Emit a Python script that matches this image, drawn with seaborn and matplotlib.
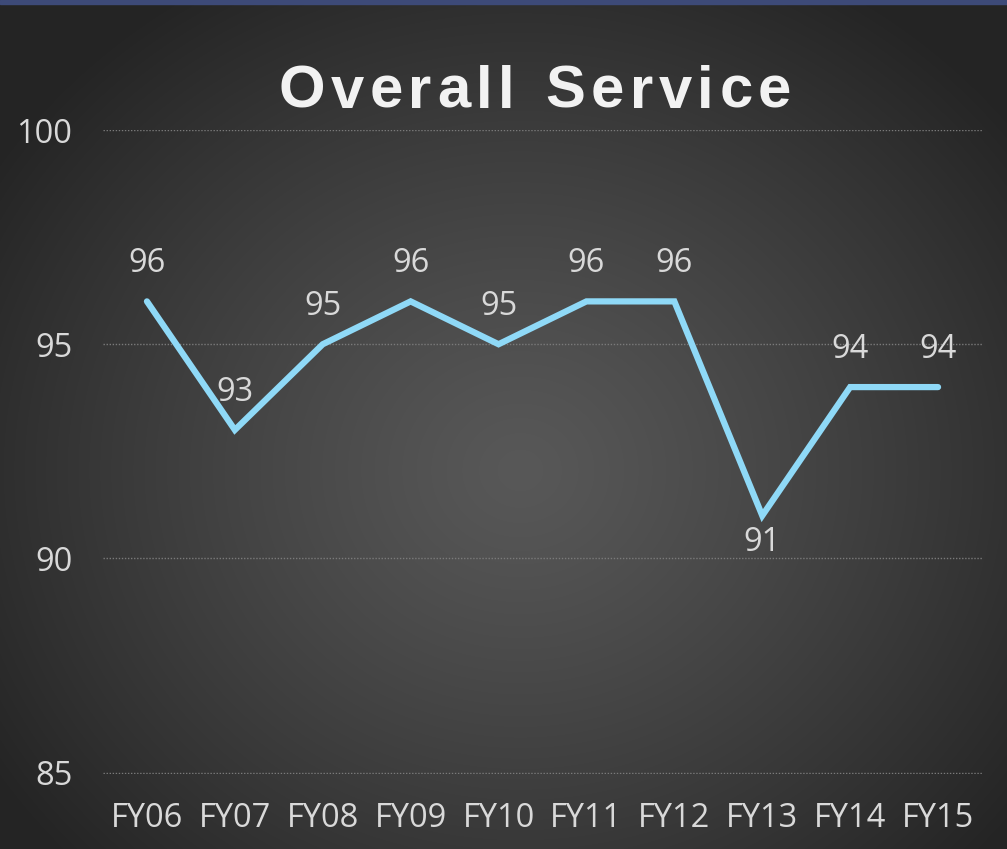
import matplotlib

matplotlib.use("Agg")
import matplotlib.pyplot as plt
import numpy as np
import pandas as pd
import seaborn as sns

years = ["FY06", "FY07", "FY08", "FY09", "FY10", "FY11", "FY12", "FY13", "FY14", "FY15"]
scores = [96, 93, 95, 96, 95, 96, 96, 91, 94, 94]
y_ticks = [85, 90, 95, 100]
title = "Overall Service"

LINE = "#8fd9f7"
TEXT = "#d9d9d9"

sns.set_style("dark")
plt.rcParams["font.family"] = ["Open Sans", "DejaVu Sans"]


def spaced_text(fig, x, y, s, spacing, **kw):
    # matplotlib has no letter-spacing, so lay the characters out one by one
    r = fig.canvas.get_renderer()
    widths = []
    for ch in s:
        t = fig.text(0, 0, ch if ch != " " else "n", **kw)
        widths.append(t.get_window_extent(r).width * (0.55 if ch == " " else 1))
        t.remove()
    total = sum(widths) + spacing * (len(s) - 1)
    W = fig.bbox.width
    cur = x * W - total / 2
    for ch, w in zip(s, widths):
        fig.text(cur / W, y, ch, ha="left", va="baseline", **kw)
        cur += w + spacing


def main() -> None:
    df = pd.DataFrame({"year": years, "score": scores})

    fig = plt.figure(figsize=(10.07, 8.49), dpi=100)

    # radial dark-grey background
    bg = fig.add_axes([0, 0, 1, 1], zorder=0)
    h, w = 849, 1007
    yy, xx = np.mgrid[0:h, 0:w]
    d = np.sqrt(((xx - 520) / 620) ** 2 + ((yy - 470) / 560) ** 2)
    d = np.clip(d, 0, 1)
    c = 0.345 - (0.345 - 0.145) * d ** 1.2
    bg.imshow(np.dstack([c, c, c]), aspect="auto", extent=[0, 1, 0, 1], origin="upper")
    bg.axhspan(1 - 4 / 849, 1, color="#3d4a78")
    bg.set_xlim(0, 1)
    bg.set_ylim(0, 1)
    bg.axis("off")

    ax = fig.add_axes([103 / 1007, 75 / 849, 879 / 1007, 644 / 849], zorder=1)
    ax.set_facecolor("none")
    sns.lineplot(data=df, x="year", y="score", ax=ax, color=LINE, linewidth=4.5,
                 sort=False, solid_joinstyle="miter")
    ax.set_xlim(-0.5, len(years) - 0.5)
    ax.set_ylim(84.97, 100)
    ax.set_yticks(y_ticks)
    ax.grid(axis="y", color="#7a7a7a", linestyle=(0, (1, 1.2)), linewidth=1)
    ax.grid(axis="x", visible=False)
    for s in ax.spines.values():
        s.set_visible(False)
    ax.tick_params(axis="both", length=0, labelsize=23.5, labelcolor=TEXT)
    ax.tick_params(axis="y", pad=22)
    ax.tick_params(axis="x", pad=20)
    ax.set_xlabel("")
    ax.set_ylabel("")

    for i, v in enumerate(scores):
        below = v == min(scores)
        ax.annotate(str(v), (i, v), xytext=(0, -19 if below else 27),
                    textcoords="offset points", ha="center", va="center",
                    fontsize=23.5, color=TEXT)

    spaced_text(fig, 535 / 1007, 1 - 108 / 849, title, 5.5,
                fontsize=43, fontweight="bold", color="#f2f2f2",
                family=["Liberation Sans", "DejaVu Sans"])

    fig.savefig("out.png", dpi=100)
    plt.close(fig)


if __name__ == "__main__":
    main()
